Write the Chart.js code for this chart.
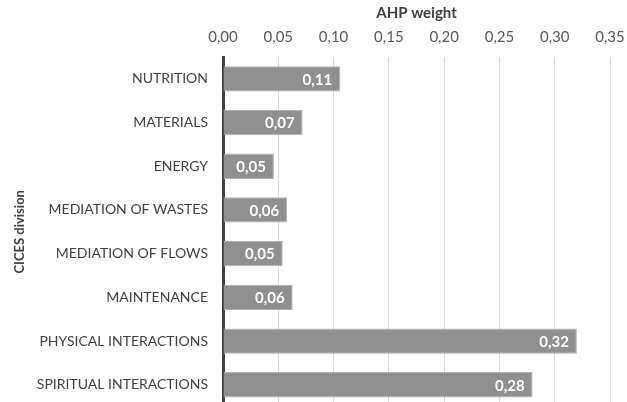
<!DOCTYPE html>
<html>
<head>
<meta charset="utf-8">
<script src="https://cdn.jsdelivr.net/npm/chart.js@4/dist/chart.umd.min.js"></script>
<style>
  html, body { margin: 0; padding: 0; background: #ffffff; overflow: hidden; }
  #wrap { width: 627px; height: 430px; }
</style>
</head>
<body>
<div id="wrap"><canvas id="c" width="627" height="430"></canvas></div>
<script>
// CICES divisions and their AHP weights
const divisions = [
  'NUTRITION',
  'MATERIALS',
  'ENERGY',
  'MEDIATION OF WASTES',
  'MEDIATION OF FLOWS',
  'MAINTENANCE',
  'PHYSICAL INTERACTIONS',
  'SPIRITUAL INTERACTIONS'
];
const ahpWeights = [0.106, 0.072, 0.046, 0.058, 0.054, 0.063, 0.320, 0.280];
const axisMin = 0;
const axisMax = 0.35;
const axisStep = 0.05;

const FONT = 'Lato, "Open Sans", sans-serif';
const fmt = v => Number(v).toFixed(2).replace('.', ',');

// fine stippled grey fill for the bars
function makeBarPattern() {
  const p = document.createElement('canvas');
  p.width = 2; p.height = 2;
  const g = p.getContext('2d');
  g.fillStyle = '#8b8b8b'; g.fillRect(0, 0, 2, 2);
  g.fillStyle = '#949494'; g.fillRect(0, 0, 1, 1); g.fillRect(1, 1, 1, 1);
  return g.createPattern(p, 'repeat');
}

// white value labels drawn inside the end of each bar
const valueLabels = {
  id: 'valueLabels',
  afterDatasetsDraw(chart) {
    const ctx = chart.ctx;
    const meta = chart.getDatasetMeta(0);
    ctx.save();
    ctx.font = 'bold 15px ' + FONT;
    ctx.fillStyle = '#ffffff';
    ctx.textAlign = 'right';
    ctx.textBaseline = 'middle';
    meta.data.forEach((bar, i) => {
      ctx.fillText(fmt(chart.data.datasets[0].data[i]), bar.x - 8, bar.y + 1);
    });
    ctx.restore();
  }
};

new Chart(document.getElementById('c'), {
  type: 'bar',
  data: {
    labels: divisions,
    datasets: [{
      data: ahpWeights,
      backgroundColor: makeBarPattern(),
      borderColor: '#b0b0b0',
      borderWidth: 1,
      borderSkipped: 'start',
      barPercentage: 0.58,
      categoryPercentage: 1.0
    }]
  },
  options: {
    indexAxis: 'y',
    responsive: false,
    animation: false,
    layout: { padding: { left: 0, right: 17, top: 0, bottom: 0 } },
    plugins: { legend: { display: false }, tooltip: { enabled: false } },
    scales: {
      x: {
        position: 'top',
        min: axisMin,
        max: axisMax,
        ticks: {
          stepSize: axisStep,
          callback: v => fmt(v),
          color: '#595959',
          font: { family: FONT, size: 15 },
          padding: 11
        },
        grid: { color: '#d9d9d9', drawTicks: false, lineWidth: 1 },
        border: { display: false },
        title: {
          display: true,
          text: 'AHP weight',
          color: '#404040',
          font: { family: FONT, size: 15, weight: 'bold' },
          padding: { top: 4, bottom: 0 }
        },
        afterFit(s) {
          s.height = 57;
          s.paddingLeft = 0;
          s.paddingRight = 0;
        }
      },
      y: {
        ticks: {
          color: '#404040',
          font: { family: FONT, size: 14 },
          padding: 15
        },
        grid: { display: false, drawTicks: false },
        border: { color: '#404040', width: 3 },
        title: {
          display: true,
          text: 'CICES division',
          color: '#404040',
          font: { family: FONT, size: 13, weight: 'bold' },
          padding: { top: 12, bottom: 0 }
        },
        afterFit(s) { s.width = 223; }
      }
    }
  },
  plugins: [valueLabels]
});
</script>
</body>
</html>
